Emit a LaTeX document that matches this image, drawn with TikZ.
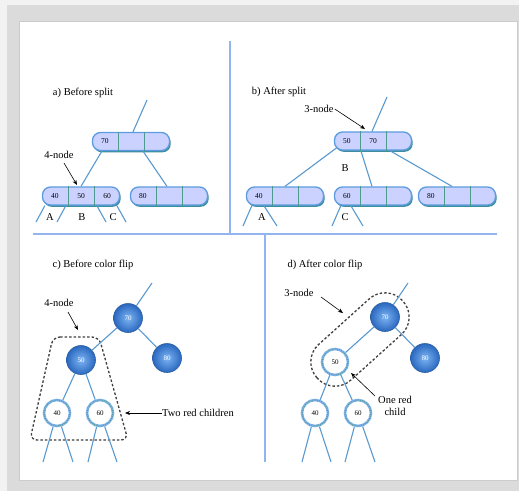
\documentclass[tikz,border=0pt]{standalone}
\usepackage{fontspec}
\setmainfont{Liberation Serif}
\usetikzlibrary{calc,arrows.meta,shadows}
\definecolor{lav}{HTML}{CCD2FF}
\definecolor{boxblue}{HTML}{5B9BE0}
\definecolor{shteal}{HTML}{3E8E9E}
\definecolor{divteal}{HTML}{4E9A8E}
\definecolor{edgeblue}{HTML}{5A9AD0}
\definecolor{sepblue}{HTML}{92B4F0}
\definecolor{ballin}{HTML}{7DB4F2}
\definecolor{ballout}{HTML}{2A68C0}
\definecolor{ballrim}{HTML}{2A5E9E}
\definecolor{ringblue}{HTML}{7FB2EA}
\tikzset{
 bbox/.style={rectangle, rounded corners=8pt, minimum width=77pt, minimum height=18pt, inner sep=0pt, fill=lav, draw=boxblue, line width=1.3pt, drop shadow={shadow xshift=1.2pt, shadow yshift=-1.8pt, fill=shteal, opacity=1}},
 cellline/.style={draw=divteal, line width=0.9pt},
 celltext/.style={font=\fontsize{7.5}{8}\selectfont, inner sep=0pt},
 edge/.style={draw=edgeblue, line width=1.1pt},
 sepline/.style={draw=sepblue, line width=1.6pt},
 lbl/.style={font=\fontsize{10.5}{11.5}\selectfont, inner sep=0pt, align=center},
 note/.style={-{Stealth[length=5pt,width=4pt]}, line width=0.6pt, black},
 blk/.style={circle, minimum size=29pt, inner sep=0pt, inner color=ballin, outer color=ballout, draw=ballrim, line width=0.6pt, text=white, font=\fontsize{7}{8}\selectfont},
 rednode/.style={circle, minimum size=26pt, inner sep=0pt, fill=white, draw=ringblue, line width=2.6pt, font=\fontsize{7}{8}\selectfont, postaction={draw=divteal, line width=1.1pt, dash pattern=on 0.8pt off 1.4pt}},
 grp/.style={draw=black!75, line width=1.3pt, dash pattern=on 2.5pt off 2pt},
}
\newcommand{\bcells}[4]{%
 \draw[cellline] ($(#1.north west)!1/3!(#1.north east)$) -- ($(#1.south west)!1/3!(#1.south east)$);
 \draw[cellline] ($(#1.north west)!2/3!(#1.north east)$) -- ($(#1.south west)!2/3!(#1.south east)$);
 \node[celltext] (#1ta) at ($(#1.west)!1/6!(#1.east)$) {#2};
 \node[celltext] (#1tb) at ($(#1.west)!1/2!(#1.east)$) {#3};
 \node[celltext] (#1tc) at ($(#1.west)!5/6!(#1.east)$) {#4};
}
\begin{document}
\begin{tikzpicture}[x=1pt,y=-1pt]
\useasboundingbox (0,0) rectangle (519,491);
% frame
\fill[black!5] (0,0) rectangle (519,491);
\fill[black!14] (7,5) rectangle (519,491);
\fill[white, draw=black!20, line width=0.6pt] (19,21) rectangle (517,480);
% dividers
\draw[sepline] (230,41) -- (230,234);
\draw[sepline] (33,234) -- (497,234);
\draw[sepline] (265,234) -- (265,462);

% ---------- a) before split
\node[lbl] (alab) at (83,93) {a) Before split};
\node[bbox] (a70) at (131,141.5) {};
\node[bbox] (a456) at (81,196) {};
\node[bbox] (a80) at (169,196) {};
\bcells{a70}{70}{}{}
\bcells{a456}{40}{50}{60}
\bcells{a80}{80}{}{}
\coordinate (atop) at (147,100);
\draw[edge] ([xshift=2pt]a70.north) -- (atop);
\draw[edge] ([xshift=10pt]a70.south west) -- (a456.north);
\draw[edge] ([xshift=12pt]a70.south) -- ([xshift=-2pt]a80.north);
\coordinate (al1) at (36,222);
\coordinate (al2) at (57,222);
\coordinate (al3) at (106,222);
\coordinate (al4) at (126,222);
\draw[edge] ([xshift=3pt]a456.south west) -- (al1);
\draw[edge] ([xshift=24pt]a456.south west) -- (al2);
\draw[edge] ([xshift=55pt]a456.south west) -- (al3);
\draw[edge] ([xshift=75pt]a456.south west) -- (al4);
\node[lbl] (aA) at (50,217) {A};
\node[lbl] (aB) at (82,217) {B};
\node[lbl] (aC) at (113,217) {C};
\node[lbl] (a4n) at (59,155) {4-node};
\coordinate (a4a) at (77,185);
\draw[note] (64,163) -- (a4a);

% ---------- b) after split
\node[lbl] (blab) at (279,92) {b) After split};
\node[bbox] (b57) at (373,141) {};
\node[bbox] (b40) at (285,196) {};
\node[bbox] (b60) at (373,196) {};
\node[bbox] (b80) at (457,196) {};
\bcells{b57}{50}{70}{}
\bcells{b40}{40}{}{}
\bcells{b60}{60}{}{}
\bcells{b80}{80}{}{}
\coordinate (btop) at (387,97);
\draw[edge] ([xshift=-1pt]b57.north) -- (btop);
\draw[edge] ([xshift=3pt,yshift=3pt]b57.south west) -- (b40.north);
\draw[edge] ([xshift=27pt]b57.south west) -- ([xshift=-1pt]b60.north);
\draw[edge] ([xshift=56pt]b57.south west) -- ([xshift=-5pt]b80.north);
\coordinate (bl1) at (243,226);
\coordinate (bl2) at (277,226);
\coordinate (bl3) at (332,226);
\coordinate (bl4) at (363,226);
\draw[edge] ([xshift=6pt]b40.south west) -- (bl1);
\draw[edge] ([xshift=18pt]b40.south west) -- (bl2);
\draw[edge] ([xshift=7pt]b60.south west) -- (bl3);
\draw[edge] ([xshift=17pt]b60.south west) -- (bl4);
\node[lbl] (bA) at (262,217) {A};
\node[lbl] (bC) at (345,217) {C};
\node[lbl] (bB) at (345,168) {B};
\node[lbl] (b3n) at (319,109) {3-node};
\coordinate (b3a) at (365,129);
\draw[note] ([xshift=1pt]b3n.east) -- (b3a);

% ---------- c) before color flip
\node[lbl] (clab) at (93,265) {c) Before color flip};
\draw[grp, rounded corners=7pt] (53,337) -- (99,337) -- (128,440) -- (30,440) -- cycle;
\node[blk] (c70) at (128,318) {70};
\node[blk] (c50) at (81,360) {50};
\node[blk] (c80) at (167,358) {80};
\node[rednode] (c40) at (57,413) {40};
\node[rednode] (c60) at (100,413) {60};
\coordinate (ctop) at (152,283);
\draw[edge] (c70) -- (ctop);
\draw[edge] (c70) -- (c50);
\draw[edge] (c70) -- (c80);
\draw[edge] (c50) -- (c40);
\draw[edge] (c50) -- (c60);
\coordinate (cl1) at (43,462);
\coordinate (cl2) at (73,462);
\coordinate (cl3) at (88,462);
\coordinate (cl4) at (117,462);
\draw[edge] (c40) -- (cl1);
\draw[edge] (c40) -- (cl2);
\draw[edge] (c60) -- (cl3);
\draw[edge] (c60) -- (cl4);
\node[lbl] (c4n) at (59,303) {4-node};
\coordinate (c4a) at (78,330);
\draw[note] (68,312) -- (c4a);
\node[lbl, anchor=west] (ctwo) at (162,413) {Two red children};
\coordinate (ctwoa) at (125,413);
\draw[note] (ctwo.west) -- (ctwoa);

% ---------- d) after color flip
\node[lbl] (dlab) at (325,265) {d) After color flip};
\begin{scope}[shift={(360,339.5)}, rotate=42]
\draw[grp, rounded corners=23.5pt] (-57.6,-24) rectangle (57.6,24);
\end{scope}
\node[blk] (d70) at (385,317) {70};
\node[blk] (d80) at (425,358) {80};
\node[rednode] (d50) at (335,362) {50};
\node[rednode] (d40) at (315,413) {40};
\node[rednode] (d60) at (358,413) {60};
\coordinate (dtop) at (408,283);
\draw[edge] (d70) -- (dtop);
\draw[edge] (d70) -- (d50);
\draw[edge] (d70) -- (d80);
\draw[edge] (d50) -- (d40);
\draw[edge] (d50) -- (d60);
\coordinate (dl1) at (302,462);
\coordinate (dl2) at (331,462);
\coordinate (dl3) at (345,462);
\coordinate (dl4) at (375,462);
\draw[edge] (d40) -- (dl1);
\draw[edge] (d40) -- (dl2);
\draw[edge] (d60) -- (dl3);
\draw[edge] (d60) -- (dl4);
\node[lbl] (d3n) at (299,293) {3-node};
\coordinate (d3a) at (343,313);
\draw[note] (321,297) -- (d3a);
\node[lbl] (done) at (395,406) {One red\\child};
\coordinate (donea) at (351,373);
\draw[note] (375,396) -- (donea);
\end{tikzpicture}
\end{document}
